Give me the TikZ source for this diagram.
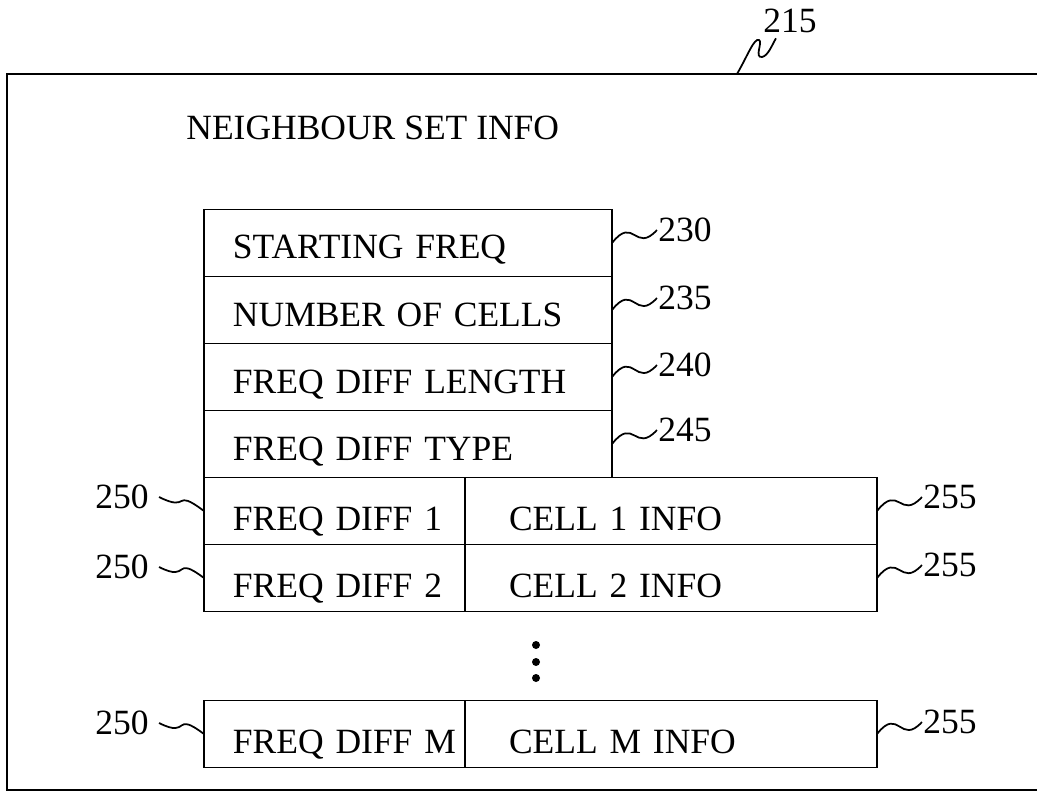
\documentclass[tikz,border=0pt]{standalone}
\usepackage{fontspec}
\setmainfont{Liberation Serif}
\usetikzlibrary{positioning}
\tikzset{
  outline/.style={line width=1.5pt},
  field/.style={draw, line width=1.1pt, outer sep=0pt, inner ysep=0pt, inner xsep=5.8mm,
    text width=70mm, align=left, minimum height=13.4mm, text height=7.2mm, text depth=0.8mm},
  diffcell/.style={draw, line width=1.1pt, outer sep=0pt, inner sep=0pt, text width=52.2mm,
    align=left, minimum height=13.4mm, text height=8.6mm, text depth=0.8mm,
    execute at begin node={\hspace*{5.8mm}}},
  infocell/.style={draw, line width=1.1pt, outer sep=0pt, inner sep=0pt, text width=82.4mm,
    align=left, minimum height=13.4mm, text height=8.6mm, text depth=0.8mm,
    execute at begin node={\hspace*{8.8mm}}},
  refnum/.style={inner sep=0.6pt},
  leader/.style={line width=1pt}
}

\begin{document}
\begin{tikzpicture}[x=0.2mm, y=-0.2mm, font=\fontsize{20.2}{24}\selectfont]
  \useasboundingbox (0,0) rectangle (1037,792);
  \draw[outline] (1037,74) -| (7,790) -- (1037,790);
  \coordinate (top215) at (737,74);
  \node[refnum] (n215) at (790,21) {215};
  \draw[leader] (top215) .. controls (748,55) and (754,38) .. (759,40)
    .. controls (763,42) and (754,58) .. (762,57)
    .. controls (768,56) and (772,45) .. ([xshift=2.8mm,yshift=-0.8mm]n215.south west);
  \node[refnum, anchor=west] (title) at (185,128) {NEIGHBOUR SET INFO};

  % upper fields
  \node[field] (sf) at (408,243) {STARTING FREQ};
  \node[field, below=0pt of sf] (nc) {NUMBER OF CELLS};
  \node[field, below=0pt of nc] (fl) {FREQ DIFF LENGTH};
  \node[field, below=0pt of fl] (ft) {FREQ DIFF TYPE};

  \node[refnum] (n230) at (685,230) {230};
  \node[refnum] (n235) at (685,298) {235};
  \node[refnum] (n240) at (685,365) {240};
  \node[refnum] (n245) at (685,430) {245};
  \draw[leader] (sf.east) .. controls +(22,-28) and +(-22,24) .. (n230.west);
  \draw[leader] (nc.east) .. controls +(22,-28) and +(-22,24) .. (n235.west);
  \draw[leader] (fl.east) .. controls +(22,-28) and +(-22,24) .. (n240.west);
  \draw[leader] (ft.east) .. controls +(22,-28) and +(-22,24) .. (n245.west);

  % cell rows
  \node[diffcell, anchor=north west] (fd1) at (ft.south west) {FREQ DIFF 1};
  \node[infocell, anchor=north west] (ci1) at (fd1.north east) {CELL 1 INFO};
  \node[diffcell, below=0pt of fd1] (fd2) {FREQ DIFF 2};
  \node[infocell, below=0pt of ci1] (ci2) {CELL 2 INFO};
  \node[diffcell, below=17.8mm of fd2] (fdm) {FREQ DIFF M};
  \node[infocell, anchor=north west] (cim) at (fdm.north east) {CELL M INFO};

  \foreach \y in {645,662,678}
    \fill (536,\y) circle[radius=0.8mm];

  \node[refnum] (l250a) at (122,497) {250};
  \node[refnum] (l250b) at (122,567) {250};
  \node[refnum] (l250m) at (122,723) {250};
  \draw[leader] ([xshift=1.8mm]l250a.east) .. controls +(32,16) and +(-32,-24) .. (fd1.west);
  \draw[leader] ([xshift=1.8mm]l250b.east) .. controls +(32,16) and +(-32,-24) .. (fd2.west);
  \draw[leader] ([xshift=1.8mm]l250m.east) .. controls +(32,16) and +(-32,-24) .. (fdm.west);

  \node[refnum] (r255a) at (950,497) {255};
  \node[refnum] (r255b) at (950,565) {255};
  \node[refnum] (r255m) at (950,722) {255};
  \draw[leader] (ci1.east) .. controls +(22,-28) and +(-22,24) .. (r255a.west);
  \draw[leader] (ci2.east) .. controls +(22,-28) and +(-22,24) .. (r255b.west);
  \draw[leader] (cim.east) .. controls +(22,-28) and +(-22,24) .. (r255m.west);
\end{tikzpicture}
\end{document}
